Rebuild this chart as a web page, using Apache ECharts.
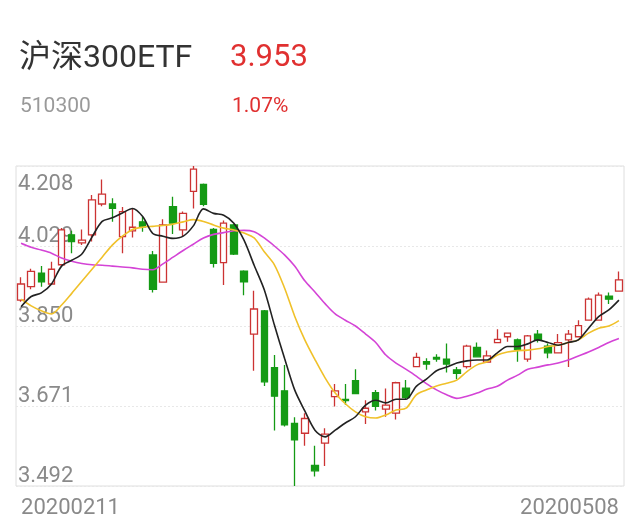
<!DOCTYPE html>
<html>
<head>
<meta charset="utf-8">
<script src="https://cdn.jsdelivr.net/npm/echarts@6/dist/echarts.min.js"></script>
<style>
html,body{margin:0;padding:0;background:#fff;}
#chart{width:640px;height:526px;}
</style>
</head>
<body>
<div id="chart"></div>
<script>
// ---- header texts ----
const stockName = '沪深300ETF';
const stockCode = '510300';
const lastPrice = '3.953';
const changePct = '1.07%';

// ---- categories (trading days) ----
const dates = [
  '20200211','20200212','20200213','20200214','20200217','20200218','20200219','20200220','20200221','20200224',
  '20200225','20200226','20200227','20200228','20200302','20200303','20200304','20200305','20200306','20200309',
  '20200310','20200311','20200312','20200313','20200316','20200317','20200318','20200319','20200320','20200323',
  '20200324','20200325','20200326','20200327','20200330','20200331','20200401','20200402','20200403','20200407',
  '20200408','20200409','20200410','20200413','20200414','20200415','20200416','20200417','20200420','20200421',
  '20200422','20200423','20200424','20200427','20200428','20200429','20200430','20200506','20200507','20200508'
];

// ---- OHLC values ----
const opens = [
  3.908,3.938,3.968,3.944,3.987,4.054,4.036,4.054,4.123,4.123,
  4.050,4.063,4.083,4.009,3.948,4.117,4.065,4.151,4.167,4.066,
  3.992,4.076,3.973,3.832,3.884,3.757,3.705,3.632,3.610,3.538,
  3.588,3.692,3.686,3.728,3.658,3.701,3.664,3.655,3.711,3.759,
  3.770,3.780,3.776,3.752,3.759,3.802,3.769,3.813,3.826,3.819,
  3.776,3.832,3.805,3.790,3.819,3.826,3.863,3.863,3.917,3.928
];
const closes = [
  3.944,3.972,3.949,3.977,4.065,4.039,4.042,4.132,4.145,4.113,
  4.106,4.071,4.072,3.932,4.076,4.080,4.102,4.201,4.122,3.990,
  4.080,4.011,3.949,3.888,3.725,3.693,3.629,3.595,3.643,3.526,
  3.608,3.705,3.683,3.699,3.666,3.670,3.673,3.723,3.690,3.780,
  3.765,3.776,3.765,3.744,3.805,3.781,3.783,3.820,3.834,3.798,
  3.828,3.819,3.790,3.813,3.832,3.851,3.910,3.919,3.910,3.953
];
const lows = [
  3.904,3.932,3.938,3.944,3.984,4.013,4.031,4.039,4.118,4.083,
  4.013,4.048,4.061,3.925,3.948,4.056,4.051,4.113,4.118,3.981,
  3.942,4.009,3.919,3.750,3.716,3.616,3.625,3.492,3.582,3.513,
  3.537,3.670,3.673,3.698,3.631,3.661,3.647,3.641,3.686,3.759,
  3.752,3.770,3.746,3.731,3.755,3.780,3.767,3.813,3.815,3.770,
  3.770,3.813,3.778,3.789,3.758,3.826,3.863,3.863,3.899,3.928
];
const highs = [
  3.959,3.978,3.984,3.994,4.069,4.063,4.066,4.143,4.178,4.136,
  4.116,4.112,4.094,4.018,4.089,4.139,4.106,4.208,4.169,4.069,
  4.086,4.078,3.975,3.929,3.886,3.785,3.763,3.646,3.655,3.582,
  3.621,3.720,3.720,3.753,3.684,3.707,3.710,3.725,3.729,3.790,
  3.778,3.787,3.811,3.758,3.808,3.813,3.795,3.843,3.835,3.822,
  3.830,3.841,3.811,3.832,3.841,3.863,3.914,3.925,3.925,3.972
];

// ---- moving average lines ----
const ma5 = [
  3.893,3.916,3.924,3.944,3.984,3.997,4.011,4.049,4.084,4.092,
  4.103,4.113,4.095,4.057,4.051,4.046,4.051,4.074,4.112,4.102,
  4.098,4.080,4.042,3.986,3.931,3.852,3.778,3.707,3.660,3.617,
  3.602,3.617,3.633,3.647,3.673,3.684,3.678,3.686,3.686,3.715,
  3.731,3.750,3.758,3.767,3.772,3.774,3.774,3.790,3.804,3.804,
  3.810,3.819,3.813,3.807,3.813,3.819,3.845,3.871,3.886,3.908
];
const ma10 = [
  3.910,3.895,3.884,3.877,3.897,3.923,3.950,3.977,4.004,4.031,
  4.051,4.066,4.071,4.073,4.075,4.078,4.083,4.088,4.084,4.076,
  4.069,4.065,4.058,4.047,4.016,3.987,3.935,3.872,3.819,3.775,
  3.734,3.700,3.676,3.658,3.647,3.644,3.651,3.662,3.666,3.696,
  3.707,3.716,3.722,3.729,3.748,3.763,3.770,3.785,3.792,3.795,
  3.796,3.799,3.804,3.807,3.813,3.819,3.834,3.845,3.850,3.862
];
const ma20 = [
  4.035,4.026,4.020,4.013,4.002,3.995,3.990,3.987,3.986,3.984,
  3.982,3.980,3.977,3.976,3.989,4.004,4.019,4.033,4.047,4.055,
  4.059,4.063,4.064,4.061,4.047,4.029,4.009,3.984,3.951,3.926,
  3.900,3.877,3.863,3.850,3.832,3.813,3.785,3.767,3.753,3.738,
  3.721,3.707,3.696,3.688,3.693,3.700,3.709,3.715,3.729,3.740,
  3.753,3.758,3.763,3.767,3.774,3.783,3.792,3.802,3.813,3.822
];

// ---- y axis ticks ----
const yTicks = [3.492, 3.671, 3.850, 4.029, 4.208];

const ohlc = dates.map((d, i) => [opens[i], closes[i], lows[i], highs[i]]);

const RED = '#cc3333';
const GREEN = '#149a14';
const FONT = 'Roboto, "Noto Sans CJK SC", sans-serif';

const chart = echarts.init(document.getElementById('chart'), null, {renderer: 'canvas'});
chart.setOption({
  animation: false,
  backgroundColor: '#fff',
  title: [
    {text: stockName, left: 14, top: 38, textStyle: {fontSize: 32, color: '#333', fontWeight: 'normal', fontFamily: FONT}},
    {text: lastPrice, left: 225, top: 38, textStyle: {fontSize: 31, color: '#e03030', fontWeight: 'normal', fontFamily: FONT}},
    {text: stockCode, left: 15, top: 91, textStyle: {fontSize: 21, color: '#9a9a9a', fontWeight: 'normal', fontFamily: FONT}},
    {text: changePct, left: 227, top: 91, textStyle: {fontSize: 21, color: '#e03030', fontWeight: 'normal', fontFamily: FONT}}
  ],
  grid: {left: 16, right: 16, top: 166, bottom: 40, show: true, borderColor: '#dedede', borderWidth: 1},
  xAxis: {
    type: 'category',
    data: dates,
    boundaryGap: true,
    axisLine: {show: false},
    axisTick: {show: false},
    splitLine: {show: false},
    axisLabel: {
      interval: (i) => i === 0 || i === dates.length - 1,
      alignMinLabel: 'left',
      alignMaxLabel: 'right',
      color: '#8a8a8a',
      fontSize: 22,
      fontFamily: FONT,
      margin: 11
    }
  },
  yAxis: {
    type: 'value',
    min: yTicks[0],
    max: yTicks[yTicks.length - 1],
    interval: 0.179,
    axisLine: {show: false},
    axisTick: {show: false},
    splitLine: {show: true, lineStyle: {color: '#e8e8e8', type: [2, 2], width: 1}},
    axisLabel: {
      inside: true,
      margin: 2,
      verticalAlign: 'middle',
      formatter: (v) => {
        const s = v.toFixed(3);
        return Math.abs(v - yTicks[yTicks.length - 1]) < 1e-6 ? '{t|' + s + '}' : '{b|' + s + '}';
      },
      rich: {
        t: {fontSize: 22, color: '#8a8a8a', fontFamily: FONT, padding: [36, 0, 0, 0]},
        b: {fontSize: 22, color: '#8a8a8a', fontFamily: FONT, padding: [0, 0, 20, 0]}
      }
    }
  },
  series: [
    {
      type: 'candlestick',
      data: ohlc,
      barWidth: 7,
      itemStyle: {color: '#ffffff', color0: GREEN, borderColor: RED, borderColor0: GREEN, borderWidth: 1.3}
    },
    {type: 'line', data: ma20, symbol: 'none', smooth: 0.3, lineStyle: {color: '#d444d6', width: 1.6}, z: 3},
    {type: 'line', data: ma10, symbol: 'none', smooth: 0.3, lineStyle: {color: '#f0c12a', width: 1.6}, z: 3},
    {type: 'line', data: ma5, symbol: 'none', smooth: 0.3, lineStyle: {color: '#222222', width: 1.6}, z: 4}
  ]
});
</script>
</body>
</html>
